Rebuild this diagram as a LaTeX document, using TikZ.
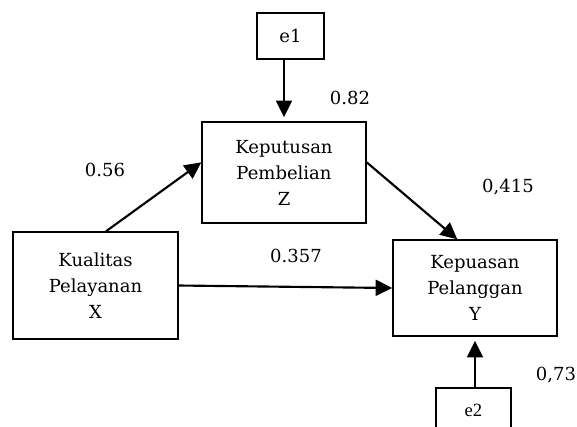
\documentclass[tikz,border=0pt]{standalone}
\usepackage{fontspec}
\setmainfont{DejaVu Serif}
\newfontfamily\errfont{Liberation Serif}
\usetikzlibrary{arrows.meta}

\tikzset{
    varbox/.style={draw, line width=1.1pt, align=center, inner sep=0pt,
        font=\fontsize{13.5}{19.5}\selectfont},
    errbox/.style={draw, line width=1.1pt, inner sep=0pt},
    coef/.style={inner sep=0pt, font=\fontsize{13.5}{19.5}\selectfont},
    link/.style={line width=1.6pt, -{Triangle[length=12.5pt,width=12pt]}}
}

\begin{document}
\begin{tikzpicture}[x=0.75pt, y=-0.75pt]
    \useasboundingbox (0,0) rectangle (577,426);
    \clip (0,0) rectangle (577,426);

    % Error terms
    \node[errbox, minimum width=50.25pt, minimum height=34.5pt,
        font=\fontsize{13.5}{19.5}\selectfont] (e1) at (290.5,36) {e1};
    \node[errbox, minimum width=56.25pt, minimum height=33pt,
        font=\errfont\fontsize{14}{16}\selectfont] (e2) at (473.5,410) {e2\hspace{10pt}};

    % Variables
    \node[varbox, minimum width=123pt, minimum height=75.75pt] (Z) at (284,172.5)
        {Keputusan\\Pembelian\\Z};
    \node[varbox, minimum width=123.75pt, minimum height=80.25pt] (X) at (95.5,285.5)
        {Kualitas\\Pelayanan\\X};
    \node[varbox, minimum width=123pt, minimum height=72pt] (Y) at (475,288)
        {Kepuasan\\Pelanggan\\Y};

    % Paths
    \draw[link, shorten >=3pt] (e1.south -| Z.north) -- (Z.north);
    \draw[link] (X.79) -- (Z.173);
    \draw[link] (Z.7) -- (Y.110);
    \draw[link] (X.east) -- (Y.west);
    \draw[link, shorten >=3pt] (e2.north -| Y.south) -- (Y.south);

    % Coefficients
    \node[coef] (c82) at (350,98) {0.82};
    \node[coef] (c56) at (105,170) {0.56};
    \node[coef] (c415) at (508,187) {0,415};
    \node[coef] (c357) at (296,256) {0.357};
    \node[coef] (c73) at (556,375) {0,73};
\end{tikzpicture}
\end{document}
